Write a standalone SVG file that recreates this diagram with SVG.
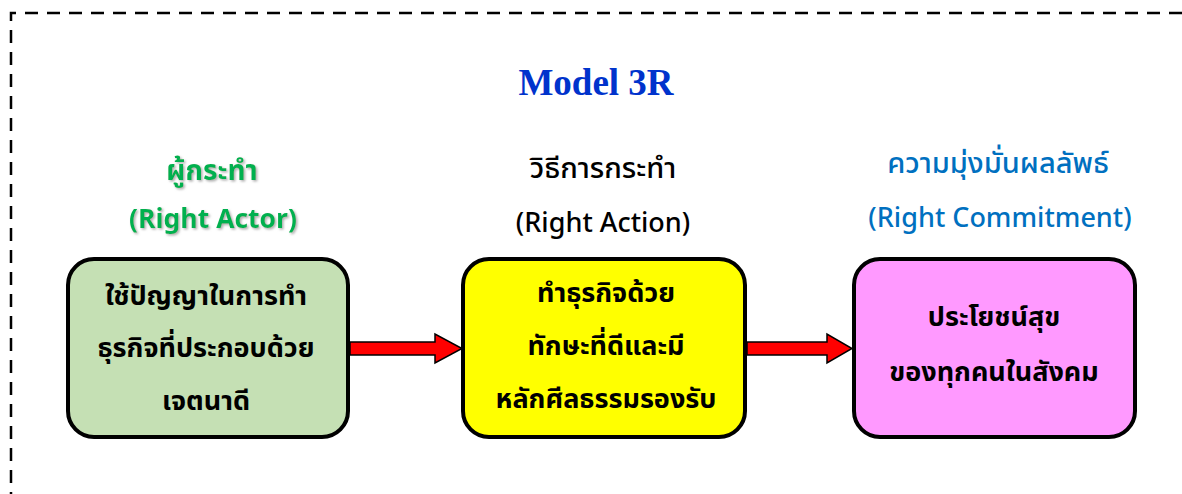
<svg xmlns="http://www.w3.org/2000/svg" width="1182" height="494" viewBox="0 0 1182 494">
<style>
.th{font-family:"Noto Sans Thai","Noto Sans Thai UI","Tahoma","DejaVu Sans",sans-serif;text-anchor:middle}
.ht{font-size:29px;font-weight:500}
.hl{font-size:27px;font-weight:500}
.bx{font-size:27px;font-weight:bold;fill:#000}
.box{stroke:#000;stroke-width:4}
.arr{fill:#FF0000;stroke:#000;stroke-width:1.5}
</style>
<defs>
<filter id="sh" x="-10%" y="-10%" width="130%" height="140%">
<feDropShadow dx="1.5" dy="1.5" stdDeviation="0.8" flood-color="#999" flood-opacity="0.8"/>
</filter>
</defs>
<rect width="1182" height="494" fill="#fff"/>
<path d="M1182 13 H11 V494" fill="none" stroke="#000" stroke-width="2.5" stroke-dasharray="13,9"/>
<text x="596" y="95" font-family="Liberation Serif,serif" font-size="37" font-weight="bold" fill="#0033CC" text-anchor="middle">Model 3R</text>
<g id="hdr-actor" class="th" fill="#00B050" filter="url(#sh)">
<text x="212" y="180" style="font-size:28px;font-weight:bold">ผู้กระทำ</text>
<text x="213" y="228" style="font-size:26.5px;font-weight:bold">(Right Actor)</text>
</g>
<g id="hdr-action" class="th" fill="#000">
<text class="ht" x="603" y="178">วิธีการกระทำ</text>
<text class="hl" x="603" y="232">(Right Action)</text>
</g>
<g id="hdr-commit" class="th" fill="#0070C0">
<text class="ht" x="998" y="173">ความมุ่งมั่นผลลัพธ์</text>
<text class="hl" x="1000" y="227">(Right Commitment)</text>
</g>
<g id="node-actor">
<rect class="box" x="68" y="259" width="280" height="178" rx="26" fill="#C5E0B4"/>
<text class="th bx" x="206" y="305">ใช้ปัญญาในการทำ</text>
<text class="th bx" x="206" y="357">ธุรกิจที่ประกอบด้วย</text>
<text class="th bx" x="206" y="410">เจตนาดี</text>
</g>
<g id="node-action">
<rect class="box" x="463" y="259" width="282" height="178" rx="26" fill="#FFFF00"/>
<text class="th bx" x="606" y="302">ทำธุรกิจด้วย</text>
<text class="th bx" x="606" y="355">ทักษะที่ดีและมี</text>
<text class="th bx" x="606" y="408">หลักศีลธรรมรองรับ</text>
</g>
<g id="node-commit">
<rect class="box" x="854" y="259" width="281" height="178" rx="26" fill="#FF99FF"/>
<text class="th bx" x="994" y="326">ประโยชน์สุข</text>
<text class="th bx" x="994" y="381">ของทุกคนในสังคม</text>
</g>
<g id="connectors">
<polygon class="arr" points="350,342 435,342 435,334 462,348.5 435,363 435,355 350,355"/>
<polygon class="arr" points="747,342 827,342 827,334 852,348.5 827,363 827,355 747,355"/>
</g>
</svg>
